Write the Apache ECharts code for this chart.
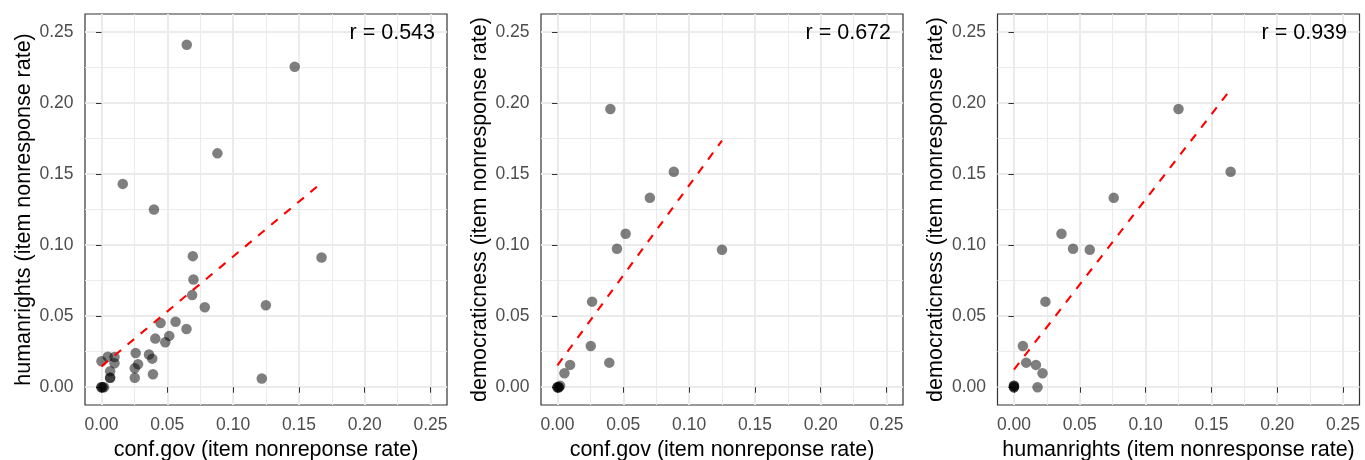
<!DOCTYPE html>
<html>
<head>
<meta charset="utf-8">
<script src="https://cdn.jsdelivr.net/npm/echarts@6/dist/echarts.min.js"></script>
<style>
  html, body { margin: 0; padding: 0; background: #fff; }
  #chart { width: 1365px; height: 460px; }
</style>
</head>
<body>
<div id="chart"></div>
<script>
const majorTicks = [0, 0.05, 0.10, 0.15, 0.20, 0.25];
const minorTicks = [0.025, 0.075, 0.125, 0.175, 0.225];

// panel 1: conf.gov vs humanrights
const confGov1 = [0.0648, 0.1468, 0.0881, 0.0162, 0.0399, 0.0694, 0.1672, 0.0699, 0.0689, 0.0785,
  0.1249, 0.0449, 0.0563, 0.0646, 0.0409, 0.0515, 0.0485, 0.0000, 0.0048, 0.0099,
  0.0099, 0.0066, 0.0066, 0.0066, 0.0260, 0.0253, 0.0278, 0.0253, 0.0361, 0.0386,
  0.0391, 0.1218, 0, 0, 0.001, 0.002];
const humanRights1 = [0.2409, 0.2254, 0.1645, 0.1430, 0.1250, 0.0922, 0.0913, 0.0758, 0.0648, 0.0562,
  0.0576, 0.0452, 0.0461, 0.0410, 0.0342, 0.0361, 0.0316, 0.0183, 0.0215, 0.0213,
  0.0169, 0.0112, 0.0066, 0.0066, 0.0241, 0.0133, 0.0162, 0.0066, 0.0230, 0.0201,
  0.0091, 0.0061, 0, 0, 0, 0];

// panel 2: conf.gov vs democraticness
const confGov2 = [0.0402, 0.0884, 0.0702, 0.0518, 0.0452, 0.1250, 0.0263, 0.0253, 0.0394, 0.0096,
  0.0053, 0.002, 0, 0, 0.001, 0.001];
const democraticness2 = [0.1957, 0.1515, 0.1332, 0.1079, 0.0974, 0.0967, 0.0602, 0.0290, 0.0173, 0.0157,
  0.0098, 0.001, 0, 0, 0, 0];

// panel 3: humanrights vs democraticness
const humanRights3 = [0.1250, 0.1646, 0.0758, 0.0361, 0.0449, 0.0576, 0.0239, 0.0068, 0.0093, 0.0167,
  0.0217, 0.0179, 0, 0, 0, 0];
const democraticness3 = [0.1957, 0.1515, 0.1332, 0.1079, 0.0974, 0.0967, 0.0602, 0.0290, 0.0173, 0.0157,
  0.0098, 0, 0, 0, 0.001, 0.001];

const xNames = ['conf.gov (item nonreponse rate)', 'conf.gov (item nonreponse rate)', 'humanrights (item nonresponse rate)'];
const yNames = ['humanrights (item nonresponse rate)', 'democraticness (item nonresponse rate)', 'democraticness (item nonresponse rate)'];
const rLabels = ['r = 0.543', 'r = 0.672', 'r = 0.939'];
const fitIntercepts = [0.0147, 0.0154, 0.0124];
const fitSlopes = [0.772, 1.265, 1.197];

const panelX = [confGov1, confGov2, humanRights3];
const panelY = [humanRights1, democraticness2, democraticness3];

const FONT = "'Liberation Sans', Arial, sans-serif";
const gridLefts = [85, 541, 997.5];
const rRights = [930, 474, 18];
const AX_MIN = -0.0125, AX_MAX = 0.2625;

const chart = echarts.init(document.getElementById('chart'));

const grids = [], xAxes = [], yAxes = [], series = [], titles = [];

function majorAxis(i, name, isY) {
  return {
    type: 'value', gridIndex: i, min: AX_MIN, max: AX_MAX,
    name: name, nameLocation: 'middle', nameGap: isY ? 50 : 31,
    nameTextStyle: { color: '#000', fontSize: 21.5, fontFamily: FONT },
    axisLine: { show: false },
    axisTick: { show: true, customValues: majorTicks, length: 5.5, lineStyle: { color: '#333', width: 1 } },
    axisLabel: { customValues: majorTicks, formatter: v => v.toFixed(2), color: '#4D4D4D', fontSize: 17.5, fontFamily: FONT, margin: isY ? 11.5 : 11 },
    splitLine: { show: true, lineStyle: { color: '#EBEBEB', width: 2 } },
    z: 2
  };
}
function minorAxis(i) {
  return {
    type: 'value', gridIndex: i, min: AX_MIN, max: AX_MAX,
    axisLine: { show: false },
    axisTick: { show: false, customValues: minorTicks },
    axisLabel: { show: false },
    splitLine: { show: true, lineStyle: { color: '#EBEBEB', width: 1 } },
    z: 1
  };
}

for (let i = 0; i < 3; i++) {
  grids.push({
    left: gridLefts[i], top: 14, width: 362, height: 391,
    show: true, borderColor: '#333', borderWidth: 1.2, backgroundColor: 'transparent',
    outerBoundsMode: 'none'
  });
  xAxes.push(majorAxis(i, xNames[i], false), minorAxis(i));
  yAxes.push(majorAxis(i, yNames[i], true), minorAxis(i));

  const xs = panelX[i], ys = panelY[i];
  series.push({
    type: 'scatter', xAxisIndex: 2 * i, yAxisIndex: 2 * i,
    data: xs.map((x, k) => [x, ys[k]]),
    symbolSize: 10.5, silent: true,
    itemStyle: { color: '#000', opacity: 0.5 },
    z: 3
  });
  const x0 = Math.min(...xs), x1 = Math.max(...xs);
  series.push({
    type: 'line', xAxisIndex: 2 * i, yAxisIndex: 2 * i,
    data: [[x0, fitIntercepts[i] + fitSlopes[i] * x0], [x1, fitIntercepts[i] + fitSlopes[i] * x1]],
    showSymbol: false, silent: true,
    lineStyle: { color: '#FF0000', width: 2.1, type: [8.5, 8.5] },
    z: 4
  });
  titles.push({
    text: rLabels[i], right: rRights[i], top: 22.5, padding: 0,
    textStyle: { color: '#000', fontSize: 21.5, fontWeight: 'normal', fontFamily: FONT }
  });
}

chart.setOption({
  animation: false,
  backgroundColor: '#fff',
  title: titles,
  grid: grids,
  xAxis: xAxes,
  yAxis: yAxes,
  series: series
});
</script>
</body>
</html>
